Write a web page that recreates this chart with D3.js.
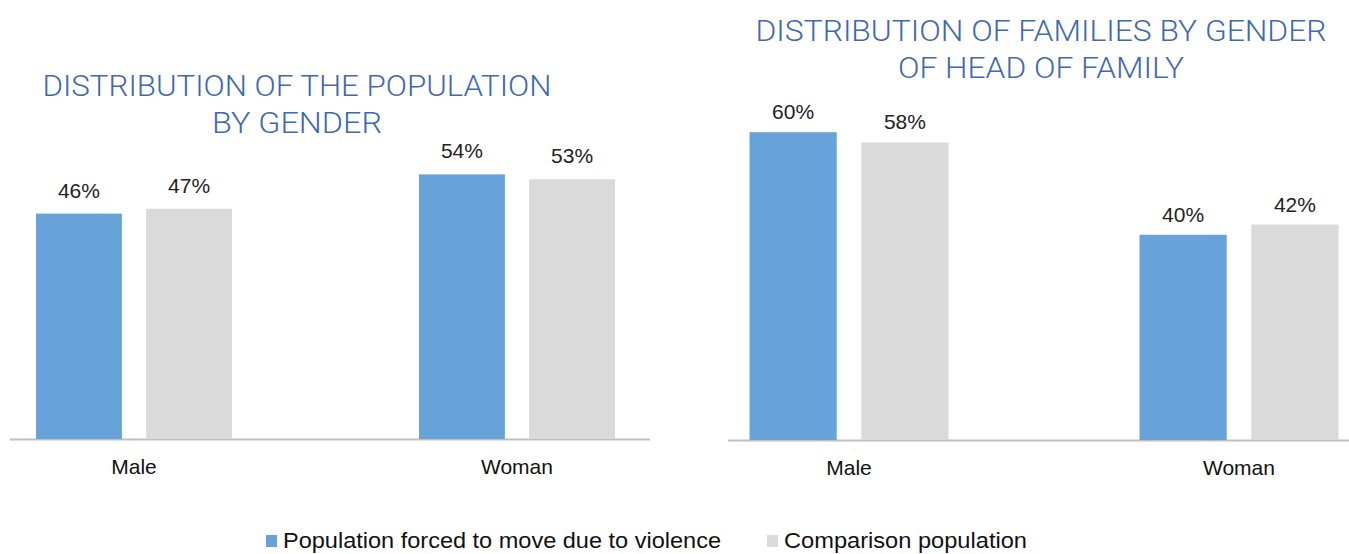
<!DOCTYPE html>
<html lang="en">
<head>
<meta charset="UTF-8">
<title>Distribution by gender</title>
<script src="https://d3js.org/d3.v7.min.js"></script>
<style>
    body { margin: 0; background: #fff; }
    svg { display: block; font-family: "Liberation Sans", Arial, sans-serif; }
    .title { fill: #4169ad; font-family: Roboto, "Liberation Sans", sans-serif; font-weight: 300; font-size: 29px; }
    .value { fill: #222; font-size: 21px; }
    .cat { fill: #111; font-size: 21px; }
    .legend text { fill: #111; font-size: 22px; }
</style>
</head>
<body>
<svg id="chart" width="1349" height="554"></svg>
<script>
// data
const categories = ["Male", "Woman"];
const seriesNames = ["Population forced to move due to violence", "Comparison population"];
const populationDisplaced = [46, 54];
const populationComparison = [47, 53];
const familiesDisplaced = [60, 40];
const familiesComparison = [58, 42];
const titlePopulation = ["DISTRIBUTION OF THE POPULATION", "BY GENDER"];
const titleFamilies = ["DISTRIBUTION OF FAMILIES BY GENDER", "OF HEAD OF FAMILY"];

const colors = ["#67a3d9", "#dadada"];
const svg = d3.select("#chart");

function drawPanel(opts) {
    const g = svg.append("g");
    const rows = categories.map((c, i) => ({ cat: c, values: [opts.a[i], opts.b[i]] }));

    // group centres and bars inside each group
    const x0 = d3.scalePoint().domain(categories).range(opts.centers);
    const x1 = d3.scaleBand().domain([0, 1]).range([-opts.groupW / 2, opts.groupW / 2]).paddingInner(opts.pad);
    const y = d3.scaleLinear().domain([0, 100]).range([opts.base, opts.base - opts.pxPer100]);

    // baseline
    g.append("line")
        .attr("x1", opts.axis[0]).attr("x2", opts.axis[1])
        .attr("y1", opts.base + 0.5).attr("y2", opts.base + 0.5)
        .attr("stroke", "#bfbfbf").attr("stroke-width", 2);

    const grp = g.selectAll(".grp").data(rows).enter().append("g")
        .attr("transform", d => "translate(" + x0(d.cat) + ",0)");

    grp.selectAll("rect").data(d => d.values).enter().append("rect")
        .attr("x", (d, i) => x1(i))
        .attr("width", x1.bandwidth())
        .attr("y", d => y(d))
        .attr("height", d => opts.base - y(d))
        .attr("fill", (d, i) => colors[i]);

    grp.selectAll(".value").data(d => d.values).enter().append("text")
        .attr("class", "value")
        .attr("x", (d, i) => x1(i) + x1.bandwidth() / 2)
        .attr("y", d => y(d) - opts.labelGap)
        .attr("text-anchor", "middle")
        .text(d => d + "%");

    g.selectAll(".cat").data(categories).enter().append("text")
        .attr("class", "cat")
        .attr("x", d => x0(d))
        .attr("y", opts.base + 35)
        .attr("text-anchor", "middle")
        .text(d => d);

    opts.title.forEach((t, i) => {
        g.append("text")
            .attr("class", "title")
            .attr("x", opts.titleX)
            .attr("y", opts.titleY + i * 37)
            .attr("text-anchor", "middle")
            .attr("textLength", opts.titleW[i])
            .attr("lengthAdjust", "spacingAndGlyphs")
            .text(t);
    });
}

drawPanel({
    a: populationDisplaced, b: populationComparison,
    centers: [134, 517], groupW: 196, pad: 0.22,
    base: 439, pxPer100: 490, axis: [10, 650], labelGap: 16,
    title: titlePopulation, titleX: 297, titleY: 96, titleW: [509, 170]
});

drawPanel({
    a: familiesDisplaced, b: familiesComparison,
    centers: [849, 1239], groupW: 199, pad: 0.22,
    base: 440, pxPer100: 513, axis: [728, 1349], labelGap: 13,
    title: titleFamilies, titleX: 1041, titleY: 41, titleW: [571, 286]
});

// legend
const legend = svg.append("g").attr("class", "legend");
const legendX = [266, 767];
const legendW = [438, 243];
seriesNames.forEach((name, i) => {
    legend.append("rect")
        .attr("x", legendX[i]).attr("y", 535)
        .attr("width", 11).attr("height", 12)
        .attr("fill", colors[i]);
    legend.append("text")
        .attr("x", legendX[i] + 17).attr("y", 548)
        .attr("textLength", legendW[i])
        .attr("lengthAdjust", "spacingAndGlyphs")
        .text(name);
});
</script>
</body>
</html>
